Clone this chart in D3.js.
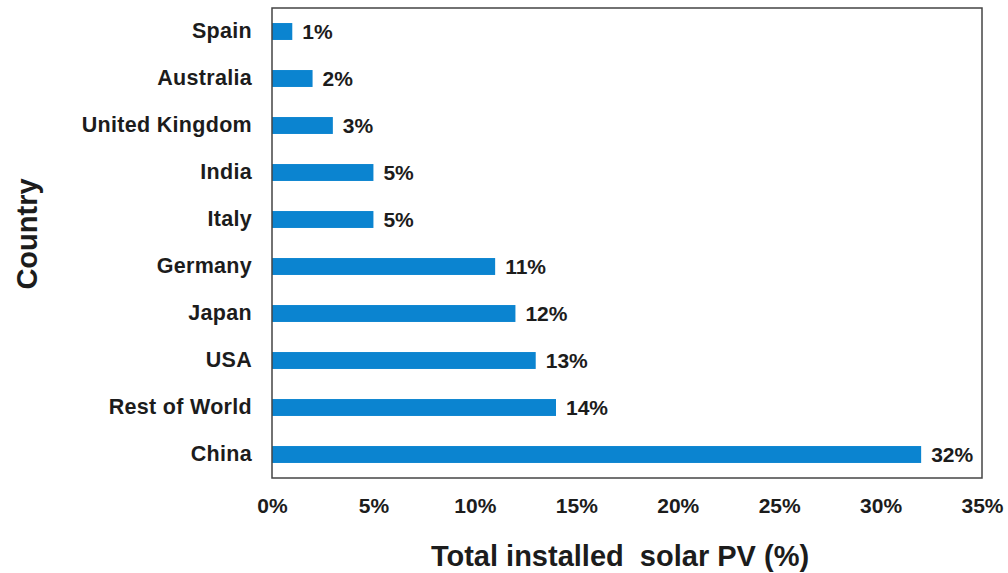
<!DOCTYPE html>
<html>
<head>
<meta charset="utf-8">
<script src="https://cdn.jsdelivr.net/npm/d3@7/dist/d3.min.js"></script>
<style>
  html, body { margin: 0; padding: 0; background: #fff; }
  svg { display: block; font-family: Arial, "Liberation Sans", sans-serif; }
</style>
</head>
<body>
<svg id="chart" width="1008" height="573"></svg>
<script>
// Share of total installed solar PV by country (%)
const countries = ["Spain", "Australia", "United Kingdom", "India", "Italy",
                   "Germany", "Japan", "USA", "Rest of World", "China"];
const shares = [1, 2, 3, 5, 5, 11, 12, 13, 14, 32];
const xTicks = [0, 5, 10, 15, 20, 25, 30, 35];

const svg = d3.select("#chart");
const margin = { left: 272, right: 26, top: 8, bottom: 95 };
const W = 1008, H = 573;
const ink = "#1c1c1c";
const font = "Arial, 'Liberation Sans', sans-serif";

const x = d3.scaleLinear().domain([0, 35]).range([margin.left, W - margin.right]);
const y = d3.scaleBand().domain(countries).range([margin.top, H - margin.bottom]).paddingInner(0.64).paddingOuter(0.32);

const data = countries.map((c, i) => ({ country: c, value: shares[i] }));

// Bars
svg.append("g").selectAll("rect").data(data).join("rect")
  .attr("x", x(0))
  .attr("y", d => y(d.country))
  .attr("width", d => x(d.value) - x(0))
  .attr("height", y.bandwidth())
  .attr("fill", "#0b84d0");

// Value labels
svg.append("g").selectAll("text").data(data).join("text")
  .attr("x", d => x(d.value) + 10)
  .attr("y", d => y(d.country) + y.bandwidth() / 2)
  .attr("dy", "0.38em")
  .attr("font-size", 21).attr("font-weight", "bold").attr("fill", ink)
  .text(d => d.value + "%");

// Frame
svg.append("rect")
  .attr("x", x(0)).attr("y", margin.top)
  .attr("width", x(35) - x(0)).attr("height", H - margin.bottom - margin.top)
  .attr("fill", "none").attr("stroke", "#444").attr("stroke-width", 1.5);

// Y axis (category labels)
const yAxis = svg.append("g")
  .attr("transform", `translate(${x(0)},0)`)
  .call(d3.axisLeft(y).tickSize(0).tickPadding(20));
yAxis.select(".domain").remove();
yAxis.selectAll("text")
  .attr("font-size", 21.5).attr("font-weight", "bold").attr("fill", ink)
  .attr("font-family", font).attr("letter-spacing", 0.3);

// X axis
const xAxis = svg.append("g")
  .attr("transform", `translate(0,${H - margin.bottom})`)
  .call(d3.axisBottom(x).tickValues(xTicks).tickSize(0).tickPadding(20).tickFormat(d => d + "%"));
xAxis.select(".domain").remove();
xAxis.selectAll("text")
  .attr("font-size", 21).attr("font-weight", "bold").attr("fill", ink)
  .attr("font-family", font);

// Axis titles
svg.append("text")
  .attr("x", 620).attr("y", 566)
  .attr("text-anchor", "middle")
  .style("white-space", "pre")
  .attr("font-size", 29).attr("font-weight", "bold").attr("fill", ink)
  .text("Total installed  solar PV (%)");

svg.append("text")
  .attr("transform", `translate(37,234) rotate(-90)`)
  .attr("text-anchor", "middle")
  .attr("font-size", 29).attr("font-weight", "bold").attr("fill", ink)
  .text("Country");
</script>
</body>
</html>
